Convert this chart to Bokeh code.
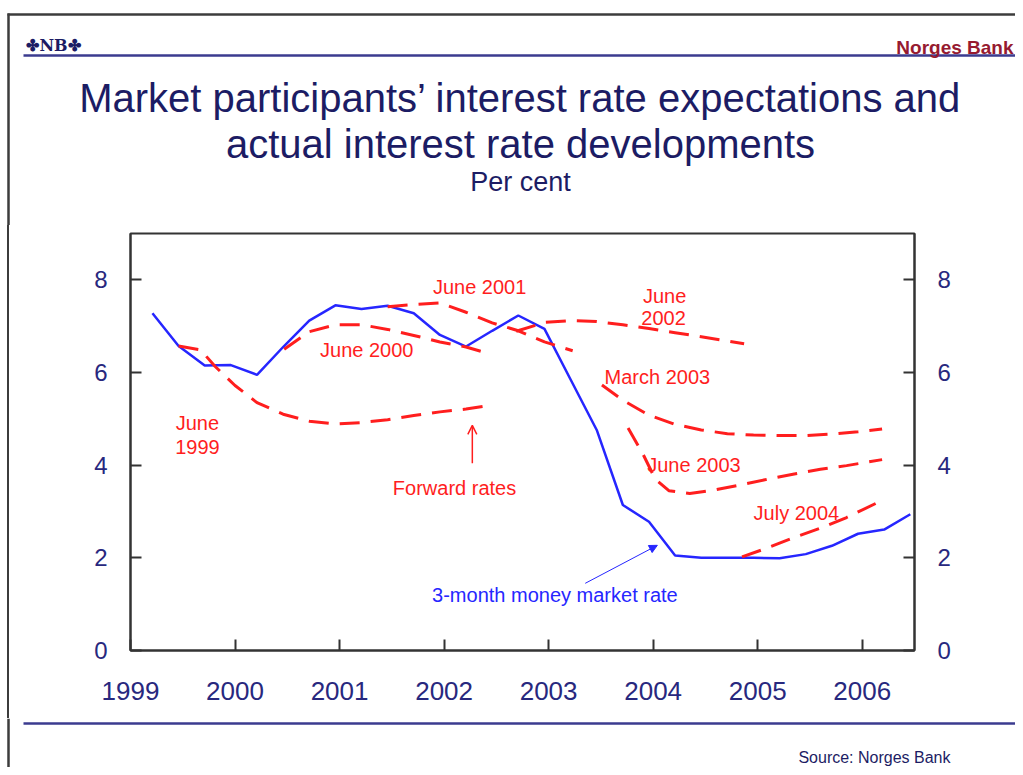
from bokeh.plotting import figure
from bokeh.layouts import column, row
from bokeh.models import (LinearAxis, Range1d, FixedTicker, Label, Arrow,
                          NormalHead, OpenHead, Div)
from bokeh.core.properties import value
from bokeh.embed import file_html
from bokeh.resources import INLINE

# ---------------- data ----------------
years = [1999, 2000, 2001, 2002, 2003, 2004, 2005, 2006]
y_ticks = [0, 2, 4, 6, 8]

# 3-month money market rate
rate_t = [1999.21, 1999.46, 1999.71, 1999.96, 2000.21, 2000.46, 2000.71, 2000.96,
          2001.21, 2001.46, 2001.71, 2001.96, 2002.21, 2002.46, 2002.71, 2002.96,
          2003.21, 2003.46, 2003.71, 2003.96, 2004.21, 2004.46, 2004.71, 2004.96,
          2005.21, 2005.46, 2005.71, 2005.96, 2006.21, 2006.46]
rate_v = [7.28, 6.57, 6.15, 6.16, 5.95, 6.55, 7.12, 7.45,
          7.37, 7.44, 7.28, 6.81, 6.56, 6.90, 7.23, 6.94,
          5.85, 4.76, 3.14, 2.78, 2.05, 2.00, 2.00, 2.00,
          1.99, 2.08, 2.26, 2.52, 2.61, 2.94]

# forward rates
jun1999_t = [1999.46, 1999.67, 1999.81, 2000.0, 2000.21, 2000.46, 2000.71, 2000.96,
             2001.21, 2001.46, 2001.71, 2001.96, 2002.21, 2002.38]
jun1999_v = [6.57, 6.49, 6.13, 5.72, 5.35, 5.10, 4.95, 4.89,
             4.92, 4.98, 5.07, 5.15, 5.21, 5.27]

jun2000_t = [2000.47, 2000.71, 2000.96, 2001.21, 2001.46, 2001.71, 2001.96, 2002.21, 2002.44]
jun2000_v = [6.50, 6.88, 7.03, 7.03, 6.93, 6.80, 6.66, 6.55, 6.40]

jun2001_t = [2001.46, 2001.71, 2001.96, 2002.21, 2002.46, 2002.71, 2002.96, 2003.23]
jun2001_v = [7.42, 7.47, 7.50, 7.30, 7.07, 6.90, 6.66, 6.47]

jun2002_t = [2002.69, 2002.96, 2003.21, 2003.46, 2003.71, 2003.96, 2004.21, 2004.46, 2004.71, 2004.87]
jun2002_v = [6.89, 7.08, 7.12, 7.10, 7.03, 6.95, 6.86, 6.77, 6.68, 6.62]

mar2003_t = [2003.51, 2003.71, 2003.96, 2004.21, 2004.46, 2004.71, 2004.96, 2005.21,
             2005.46, 2005.71, 2005.96, 2006.19]
mar2003_v = [5.73, 5.40, 5.08, 4.88, 4.76, 4.68, 4.65, 4.64,
             4.64, 4.67, 4.72, 4.78]

jun2003_t = [2003.76, 2003.90, 2004.02, 2004.15, 2004.35, 2004.60, 2004.85, 2005.10,
             2005.35, 2005.60, 2005.85, 2006.19]
jun2003_v = [4.80, 4.25, 3.70, 3.45, 3.39, 3.47, 3.58, 3.70,
             3.81, 3.91, 3.99, 4.12]

jul2004_t = [2004.85, 2005.10, 2005.35, 2005.60, 2005.85, 2006.19]
jul2004_v = [2.02, 2.22, 2.44, 2.64, 2.87, 3.24]

forwards = [(jun1999_t, jun1999_v), (jun2000_t, jun2000_v), (jun2001_t, jun2001_v),
            (jun2002_t, jun2002_v), (mar2003_t, mar2003_v), (jun2003_t, jun2003_v),
            (jul2004_t, jul2004_v)]

# ---------------- style ----------------
FONT = "Liberation Sans"
NAVY = "#1c1c64"
TICKNAVY = "#28287e"
RULE = "#3b3b8f"
AXIS = "#333333"
FRAME = "#3c3c3c"
BLUE = "#2626ff"
RED = "#ff1e1e"
DARKRED = "#961a30"

TOTAL_W = 1015
HEADER_H = 225
STRIP_W = 12
MAIN_H = 493
FOOTER_H = 767 - HEADER_H - MAIN_H


def furniture(w, h, x0, y0):
    """A plain canvas whose data coordinates equal page pixels (y downward)."""
    f = figure(width=w, height=h, output_backend="svg", toolbar_location=None,
               x_range=Range1d(x0, x0 + w), y_range=Range1d(y0 + h, y0),
               x_axis_type=None, y_axis_type=None, min_border=0)
    f.outline_line_color = None
    f.background_fill_color = "white"
    f.border_fill_color = "white"
    return f


def ftext(f, x, y, text, size, color, align="center", style="normal", font=FONT):
    f.text(x=[x], y=[y], text=[text], text_font=value(font), text_font_size=value(size),
           text_font_style=style, text_color=color, text_align=align,
           text_baseline="alphabetic")


# ---------------- header ----------------
header = furniture(TOTAL_W, HEADER_H, 0, 0)
header.segment(x0=[7], y0=[14], x1=[TOTAL_W], y1=[14], line_color=FRAME, line_width=2.5)
header.segment(x0=[8], y0=[13], x1=[8], y1=[HEADER_H], line_color=FRAME, line_width=2.5)
header.segment(x0=[23], y0=[55], x1=[TOTAL_W], y1=[55], line_color=RULE, line_width=2.5)
ftext(header, 53, 45, "\u2724NB\u2724", "16px", NAVY, style="bold", font="DejaVu Serif")
ftext(header, 1013, 47, "Norges Bank", "19px", DARKRED, align="right", style="bold")
ftext(header, 520, 97, "Market participants\u2019 interest rate expectations and", "40px", NAVY)
ftext(header, 520, 143, "actual interest rate developments", "40px", NAVY)
ftext(header, 520, 181, "Per cent", "27px", NAVY)

# ---------------- left strip (outer frame line, plain CSS) ----------------
strip = Div(text="", width=STRIP_W, height=MAIN_H, margin=0,
            styles={"background": "linear-gradient(to right, #ffffff 0px, #ffffff 6.8px, "
                                   "#3c3c3c 6.8px, #3c3c3c 9.3px, #ffffff 9.3px)"})

# ---------------- main chart ----------------
MAIN_W = TOTAL_W - STRIP_W
# plot frame on the page: x 130..914, y 233..650
p = figure(width=MAIN_W, height=MAIN_H, output_backend="svg", toolbar_location=None,
           x_range=Range1d(1999, 2006.5), y_range=Range1d(0, 9),
           min_border_left=130 - STRIP_W, min_border_right=MAIN_W - (914 - STRIP_W),
           min_border_top=233 - HEADER_H, min_border_bottom=HEADER_H + MAIN_H - 650)
p.xgrid.visible = False
p.ygrid.visible = False
p.outline_line_color = AXIS
p.outline_line_width = 2
p.background_fill_color = "white"
p.border_fill_color = "white"

right_axis = LinearAxis()
p.add_layout(right_axis, "right")

p.xaxis.ticker = FixedTicker(ticks=years)
p.xaxis.major_label_overrides = {y: str(y) for y in years}
p.yaxis.ticker = FixedTicker(ticks=y_ticks)
right_axis.ticker = FixedTicker(ticks=y_ticks)

for ax in [p.xaxis[0], p.yaxis[0], right_axis]:
    ax.axis_line_color = AXIS
    ax.axis_line_width = 2
    ax.major_tick_line_color = AXIS
    ax.major_tick_line_width = 2
    ax.major_tick_in = 11
    ax.major_tick_out = 0
    ax.minor_tick_line_color = None
    ax.major_label_text_font = FONT
    ax.major_label_text_color = TICKNAVY

p.xaxis.major_label_text_font_size = "26px"
p.xaxis.major_label_standoff = 31
for ax in [p.yaxis[0], right_axis]:
    ax.major_label_text_font_size = "24px"
    ax.major_label_standoff = 23

p.line(rate_t, rate_v, line_color=BLUE, line_width=2.5)
for t, v in forwards:
    p.line(t, v, line_color=RED, line_width=3, line_dash="20 11")


def dlabel(x, y, text, color=RED, size="20px"):
    p.add_layout(Label(x=x, y=y, text=text, text_font=FONT, text_font_size=size,
                       text_color=color, text_align="center", text_baseline="middle"))


dlabel(1999.64, 4.92, "June")
dlabel(1999.64, 4.40, "1999")
dlabel(2001.26, 6.48, "June 2000")
dlabel(2002.34, 7.84, "June 2001")
dlabel(2004.11, 7.66, "June")
dlabel(2004.10, 7.17, "2002")
dlabel(2004.04, 5.91, "March 2003")
dlabel(2004.39, 4.01, "June 2003")
dlabel(2005.37, 2.96, "July 2004")
dlabel(2002.10, 3.50, "Forward rates")
dlabel(2003.06, 1.19, "3-month money market rate", color=BLUE)

p.add_layout(Arrow(end=OpenHead(size=9, line_color=RED, line_width=1.5),
                   x_start=2002.27, y_start=4.04, x_end=2002.27, y_end=4.86,
                   line_color=RED, line_width=1.5))
p.add_layout(Arrow(end=NormalHead(size=8, fill_color=BLUE, line_color=BLUE, line_width=1),
                   x_start=2003.35, y_start=1.45, x_end=2004.04, y_end=2.27,
                   line_color=BLUE, line_width=1))

# ---------------- footer ----------------
F0 = HEADER_H + MAIN_H
footer = furniture(TOTAL_W, FOOTER_H, 0, F0)
footer.segment(x0=[8], y0=[F0], x1=[8], y1=[F0 + FOOTER_H], line_color=FRAME, line_width=2.5)
footer.segment(x0=[23], y0=[723], x1=[TOTAL_W], y1=[723], line_color=RULE, line_width=2.5)
ftext(footer, 950, 757, "Source: Norges Bank", "16px", NAVY, align="right")

layout = column(header, row(strip, p, spacing=0), footer, spacing=0)
open("out.html", "w").write(file_html(layout, INLINE))
